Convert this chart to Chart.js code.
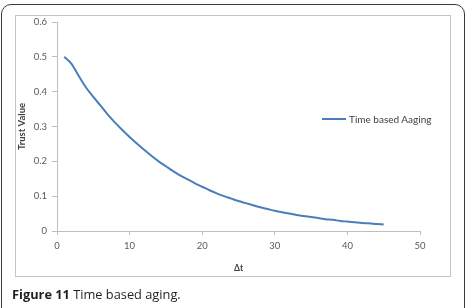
<!DOCTYPE html>
<html><head><meta charset="utf-8">
<script src="https://cdn.jsdelivr.net/npm/chart.js@4.4.0/dist/chart.umd.min.js"></script>
<style>
html,body{margin:0;padding:0;background:#fff;width:467px;height:308px;overflow:hidden;position:relative;}
#outer{position:absolute;left:1px;top:4px;width:464px;height:330px;border:1.5px solid #3a3a3a;border-radius:10px;box-sizing:border-box;}
#frame{position:absolute;left:15px;top:15px;width:436px;height:262px;border:1px solid #c4c4c4;box-sizing:border-box;}
canvas{position:absolute;left:0;top:0;}
#legend{position:absolute;left:322px;top:112px;height:14px;display:flex;align-items:center;font:10px Lato,sans-serif;color:#404040;white-space:nowrap}
#legend .sw{display:inline-block;width:24px;height:2px;background:#4a7ebb;margin-right:3px}
#caption{position:absolute;left:12px;top:285px;font:12.8px 'Open Sans',sans-serif;line-height:normal;color:#231f20;white-space:nowrap}
#caption b{font-weight:700}
</style>
</head><body>
<div id="outer"></div>
<div id="frame"></div>
<canvas id="c" width="467" height="308"></canvas>
<div id="legend"><span class="sw"></span><span id="legendText"></span></div>
<div id="caption"><b>Figure 11</b> Time based aging.</div>
<script>
const seriesName = 'Time based Aaging';
const deltaT = [1,2,3,4,5,6,7,8,9,10,11,12,13,14,15,16,17,18,19,20,21,22,23,24,25,26,27,28,29,30,31,32,33,34,35,36,37,38,39,40,41,42,43,44,45];
const trustValues = [0.500,0.480,0.445,0.412,0.385,0.360,0.334,0.311,0.290,0.270,0.251,0.233,0.216,0.200,0.186,0.172,0.159,0.148,0.137,0.127,0.117,0.108,0.100,0.093,0.086,0.080,0.074,0.068,0.063,0.058,0.054,0.050,0.046,0.043,0.040,0.037,0.034,0.032,0.029,0.027,0.025,0.023,0.022,0.020,0.019];
const xTicks = [0,10,20,30,40,50];
const yTicks = [0,0.1,0.2,0.3,0.4,0.5,0.6];
const xTitle = 'Δt';
const yTitle = 'Trust Value';

document.getElementById('legendText').textContent = seriesName;

const tickFont = {family:'Lato', size:9.5};
new Chart(document.getElementById('c').getContext('2d'), {
  type:'line',
  data:{datasets:[{
    label:seriesName,
    data:deltaT.map((t,i)=>({x:t,y:trustValues[i]})),
    borderColor:'#4a7ebb',
    borderWidth:2,
    pointRadius:0,
    cubicInterpolationMode:'monotone',
    fill:false
  }]},
  options:{
    responsive:false,
    animation:false,
    layout:{padding:{left:0,right:47,top:22,bottom:0}},
    plugins:{legend:{display:false},tooltip:{enabled:false}},
    scales:{
      x:{
        type:'linear', min:xTicks[0], max:xTicks[xTicks.length-1],
        afterBuildTicks:s=>{s.ticks = xTicks.map(v=>({value:v}));},
        afterFit:s=>{s.height = 77;},
        grid:{drawOnChartArea:false, tickLength:4, color:'#bfbfbf'},
        border:{color:'#bfbfbf'},
        ticks:{padding:5, color:'#595959', font:tickFont, maxRotation:0},
        title:{display:true, text:xTitle, color:'#404040', font:{family:'Lato', size:8.5, weight:'bold'}, padding:{top:0,bottom:35}}
      },
      y:{
        type:'linear', min:yTicks[0], max:yTicks[yTicks.length-1],
        afterBuildTicks:s=>{s.ticks = yTicks.map(v=>({value:v}));},
        afterFit:s=>{s.width = 57;},
        grid:{drawOnChartArea:false, tickLength:5, color:'#bfbfbf'},
        border:{color:'#bfbfbf'},
        ticks:{padding:5, color:'#595959', font:tickFont},
        title:{display:true, text:yTitle, color:'#404040', font:{family:'Lato', size:9.5, weight:'bold'}, padding:{top:16,bottom:0}}
      }
    }
  }
});
</script>
</body></html>
